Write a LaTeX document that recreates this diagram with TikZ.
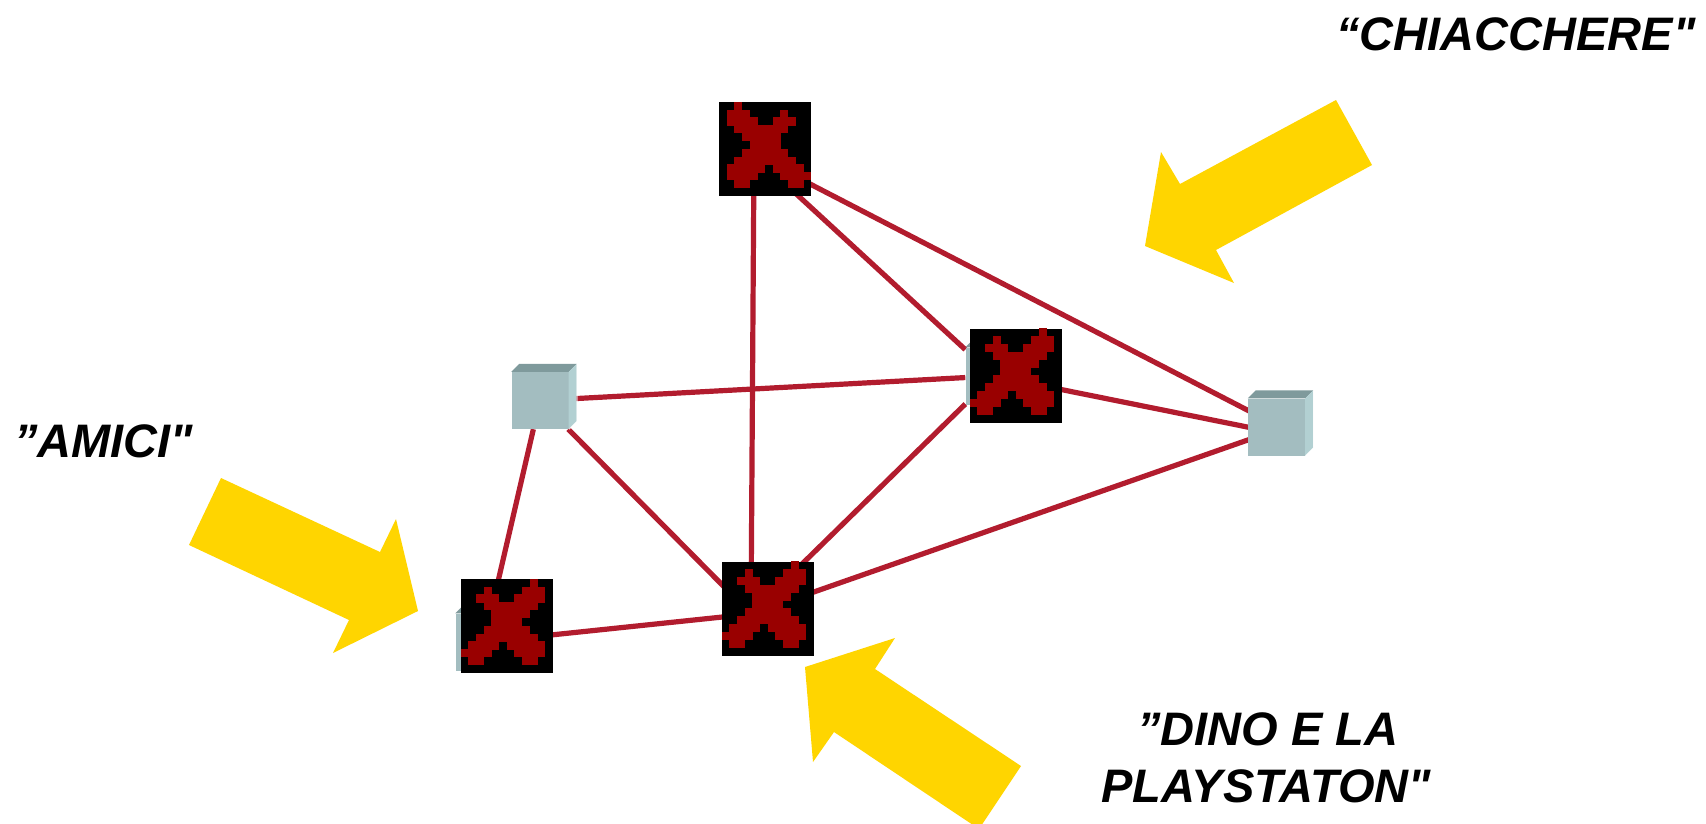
\documentclass[tikz,border=0pt]{standalone}
\usepackage{fontspec}
\setmainfont{Liberation Sans}[Ligatures=TeXOff]
\usetikzlibrary{calc}
\definecolor{linkred}{RGB}{178,28,46}
\definecolor{xred}{RGB}{153,0,0}
\definecolor{arrowyellow}{RGB}{255,213,0}
\definecolor{cubefrontc}{RGB}{163,189,192}
\definecolor{cubetopc}{RGB}{127,154,156}
\definecolor{cubesidec}{RGB}{178,208,210}
\pgfdeclarelayer{bg}
\pgfsetlayers{bg,main}
\newcommand\xcells{0/9/9,1/3/3,1/8/10,2/2/4,2/7/10,3/3/9,4/4/8,5/4/7,6/3/8,7/2/9,8/1/4,8/6/10,9/0/3,9/7/10,10/1/2,10/8/9}
\tikzset{
  xboxnode/.style={fill=black, inner sep=0pt, minimum width=92pt, minimum height=94pt},
  cubefront/.style={fill=cubefrontc, inner sep=0pt, minimum width=57pt, minimum height=57pt},
  link/.style={draw=linkred, line width=5.2pt},
  lbl/.style={inner sep=0pt, font=\fontsize{47}{56}\selectfont\bfseries\itshape},
  yarrow/.style={fill=arrowyellow}
}
% #1 name, #2 position, #3 corner anchor, #4 x unit (sign gives mirroring)
\newcommand\xboxat[4]{%
  \node[xboxnode] (#1) at (#2) {};
  \begin{scope}[shift={(#1.#3)}, x=#4, y=-7.833pt]
    \foreach \r/\a/\b in \xcells {\fill[xred] (\a,\r) rectangle (\b+1.03,\r+1.03);}
  \end{scope}
}
\newcommand\cubeat[2]{%
  \node[cubefront] (#1) at (#2) {};
  \fill[cubetopc] (#1.north west) -- ++(8,-8) -- ([shift={(8,-8)}]#1.north east) -- (#1.north east) -- cycle;
  \fill[cubesidec] (#1.north east) -- ++(8,-8) -- ([shift={(8,-8)}]#1.south east) -- (#1.south east) -- cycle;
  \draw[white, line width=1pt, opacity=0.7] ([shift={(8.5,-8)}]#1.north east) -- ([shift={(8.5,-8)}]#1.south east) -- ([shift={(0.5,0)}]#1.south east);
}
\begin{document}
\begin{tikzpicture}[x=1pt, y=-1pt]
\useasboundingbox (0,0) rectangle (1706,823);
\clip (0,0) rectangle (1706,823);
\begin{pgfonlayer}{bg}
\fill[white] (0,0) rectangle (1706,823);
\end{pgfonlayer}
% devices
\coordinate (dTop) at (754,155);
\coordinate (dBot) at (751,614);
\cubeat{dRight}{994,376}
\cubeat{dBL}{484,642}
\cubeat{cubeL}{540,400.5}
\cubeat{cubeR}{1276.5,427}
% blocked markers
\xboxat{xTop}{765,149}{north east}{-7.667pt}
\xboxat{xRight}{1016,375.5}{north west}{7.667pt}
\xboxat{xBot}{768,608.5}{north west}{7.667pt}
\xboxat{xBL}{507,626}{north west}{7.667pt}
% links
\begin{pgfonlayer}{bg}
\draw[link] (dTop) -- (dRight);
\draw[link] (dTop) -- ($(cubeR)+(5.5,1)$);
\draw[link] (dTop) -- (dBot);
\draw[link] (cubeL) -- (dRight);
\draw[link] (cubeL) -- (dBot);
\draw[link] (cubeL) -- (dBL);
\draw[link] (dRight) -- ($(cubeR)+(5.5,7)$);
\draw[link] (dRight) -- (dBot);
\draw[link] (dBot) -- ($(cubeR)+(5.5,1)$);
\draw[link] (dBL) -- (dBot);
\end{pgfonlayer}
% arrows
\fill[yarrow] (1336,100) -- (1372,165) -- (1216,250) -- (1234,283) -- (1145,246) -- (1161,152) -- (1180,184) -- cycle;
\fill[yarrow] (221,478) -- (189,545) -- (349,620) -- (333,653) -- (418,611) -- (396,519) -- (380,552) -- cycle;
\fill[yarrow] (805,667) -- (895,638) -- (875,669) -- (1021,766) -- (979,829) -- (834,732) -- (813,762) -- cycle;
% labels
\node[lbl, anchor=base west] (tChi) at (1336,50) {“CHIACCHERE"};
\node[lbl, anchor=base west] (tAmici) at (14,457) {”AMICI"};
\node[lbl, anchor=base] (tDino1) at (1268,745) {”DINO E LA};
\node[lbl, anchor=base] (tDino2) at (1266,802) {PLAYSTATON"};
\end{tikzpicture}
\end{document}
